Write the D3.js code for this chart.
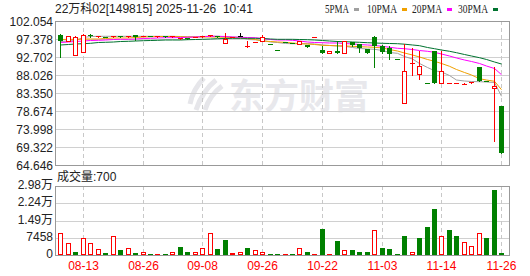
<!DOCTYPE html>
<html>
<head>
<meta charset="utf-8">
<script src="https://cdn.jsdelivr.net/npm/d3@7"></script>
<style>
  body { margin: 0; background: #fff; }
  svg { display: block; font-family: 'Liberation Sans', Arial, 'Noto Sans CJK SC', sans-serif; }
</style>
</head>
<body>
<svg id="chart" width="530" height="276"></svg>
<script>
const title = '22万科02[149815] 2025-11-26  10:41';

const dates = [
  '08-08', '08-11', '08-12', '08-13', '08-14', '08-15', '08-18', '08-19', '08-21', '08-22',
  '08-25', '08-26', '08-27', '08-28', '08-29', '09-01', '09-02', '09-03', '09-05', '09-08',
  '09-09', '09-10', '09-12', '09-15', '09-17', '09-19', '09-23', '09-26', '09-29', '09-30',
  '10-10', '10-13', '10-15', '10-17', '10-20', '10-22', '10-23', '10-24', '10-27', '10-28',
  '10-29', '10-30', '10-31', '11-03', '11-04', '11-05', '11-06', '11-07', '11-10', '11-11',
  '11-12', '11-14', '11-17', '11-18', '11-19', '11-20', '11-21', '11-24', '11-25', '11-26',
];

const open = [
  98.46, 96.89, 93.24, 94.10, 98.62, 98.14, 98.14, 98.05, 98.20, 98.14,
  98.62, 98.22, 98.27, 98.14, 98.20, 98.14, 97.62, 97.67, 97.93, 98.14,
  98.40, 98.20, 96.45, 97.96, 98.20, 95.33, 96.60, 96.89, 96.21, 94.57,
  96.73, 96.47, 96.19, 95.85, 97.90, 94.62, 93.76, 94.44, 93.76, 96.71,
  96.19, 94.96, 98.09, 95.54, 95.15, 92.23, 80.73, 90.97, 88.45, 85.97,
  94.28, 86.02, 85.99, 85.97, 85.72, 85.94, 90.19, 86.58, 84.64, 80.03,
];
const high = [
  98.80, 98.30, 98.20, 98.80, 98.88, 98.27, 98.14, 98.27, 98.20, 98.27,
  98.62, 98.27, 98.27, 98.20, 98.20, 98.20, 97.67, 97.67, 98.01, 98.20,
  98.46, 98.20, 99.06, 98.01, 99.06, 96.89, 96.63, 98.62, 96.21, 94.57,
  96.73, 96.47, 96.89, 95.85, 97.93, 95.59, 94.44, 96.89, 97.05, 96.71,
  96.19, 94.96, 98.27, 95.93, 95.67, 92.23, 96.27, 95.15, 94.44, 85.97,
  94.44, 94.28, 86.02, 86.00, 86.15, 86.36, 90.27, 86.58, 90.17, 80.03,
];
const low = [
  92.72, 96.89, 93.24, 94.10, 98.01, 98.09, 98.12, 98.01, 98.14, 98.14,
  97.31, 98.22, 98.22, 98.14, 98.14, 98.14, 97.62, 97.62, 97.93, 98.14,
  98.40, 98.14, 96.45, 97.96, 98.20, 95.33, 96.60, 96.89, 96.19, 94.55,
  96.71, 96.45, 96.19, 95.50, 97.90, 93.76, 93.76, 93.76, 93.76, 95.67,
  94.10, 93.92, 90.27, 93.84, 92.36, 92.20, 80.73, 88.11, 87.14, 85.94,
  85.90, 86.02, 85.99, 85.97, 85.72, 85.94, 86.62, 86.54, 70.98, 67.85,
];
const close = [
  96.89, 98.20, 98.14, 98.46, 98.27, 98.20, 98.12, 98.20, 98.14, 98.27,
  97.93, 98.27, 98.22, 98.20, 98.14, 98.20, 97.67, 97.62, 98.01, 98.20,
  98.46, 98.14, 97.49, 98.01, 98.20, 95.59, 96.63, 97.93, 96.19, 94.55,
  96.71, 96.45, 96.89, 95.50, 97.93, 93.76, 94.44, 93.92, 97.05, 95.85,
  95.15, 93.92, 95.54, 94.23, 93.58, 92.20, 89.07, 91.24, 90.38, 85.94,
  85.90, 89.07, 86.02, 86.00, 85.80, 86.36, 86.62, 86.54, 85.16, 67.85,
];

// volume and whether the bar is drawn as a rising (red) bar
const volume = [
  9600, 5400, 1500, 7400, 5000, 2700, 650, 8400, 1950, 3100,
  650, 1500, 600, 600, 600, 1100, 3400, 1100, 1100, 3200,
  9700, 2800, 6700, 650, 1100, 3200, 1950, 1500, 600, 600,
  600, 600, 3100, 1100, 600, 11450, 600, 6250, 1950, 1950,
  1100, 1100, 10600, 3200, 2400, 600, 8000, 1500, 7550, 11900,
  19700, 8400, 10600, 8000, 5800, 4100, 9300, 7150, 27900, 700,
];
const volumeUp = [
  1, 1, 0, 1, 1, 1, 0, 1, 0, 1,
  0, 1, 0, 1, 0, 1, 0, 0, 1, 1,
  1, 0, 0, 1, 1, 0, 1, 1, 0, 0,
  1, 0, 1, 0, 1, 0, 1, 0, 1, 0,
  0, 0, 1, 0, 0, 0, 0, 1, 0, 0,
  0, 1, 0, 0, 1, 1, 1, 0, 0, 0,
];

const ma5 = [
  96.84, 96.97, 97.10, 97.88, 98.14, 98.20, 98.20, 98.20, 98.20, 98.20,
  98.20, 98.20, 98.20, 98.20, 98.20, 98.20, 98.14, 98.09, 98.09, 98.14,
  98.20, 98.20, 98.07, 98.01, 97.94, 97.36, 97.28, 97.10, 96.71, 96.58,
  96.32, 96.27, 96.27, 96.27, 96.19, 95.93, 95.80, 95.67, 95.59, 95.28,
  95.02, 94.89, 94.81, 94.49, 93.97, 93.76, 92.93, 92.28, 91.11, 90.06,
  89.23, 88.89, 87.98, 86.80, 86.54, 86.41, 86.36, 86.28, 86.15, 82.56,
];
const ma10 = [
  97.36, 97.41, 97.41, 97.49, 97.49, 97.49, 97.62, 97.75, 97.75, 97.75,
  97.88, 98.01, 98.07, 98.14, 98.14, 98.14, 98.09, 98.01, 98.01, 98.01,
  98.01, 98.01, 97.94, 97.88, 97.75, 97.62, 97.36, 96.97, 96.84, 96.71,
  96.63, 96.45, 96.27, 96.19, 96.06, 95.85, 95.80, 95.72, 95.67, 95.59,
  95.48, 95.41, 95.33, 95.15, 94.75, 94.36, 93.84, 93.32, 92.80, 92.15,
  91.68, 91.11, 90.38, 89.54, 88.76, 88.11, 87.14, 86.80, 86.47, 84.28,
];
const ma20 = [
  96.58, 96.71, 96.84, 96.97, 97.10, 97.15, 97.23, 97.36, 97.41, 97.41,
  97.49, 97.62, 97.67, 97.75, 97.83, 97.83, 97.88, 97.94, 98.01, 98.09,
  98.20, 98.20, 98.14, 98.01, 97.94, 97.88, 97.83, 97.62, 97.36, 97.23,
  97.23, 97.15, 96.97, 96.71, 96.58, 96.53, 96.45, 96.45, 96.32, 96.19,
  96.06, 95.93, 95.80, 95.59, 95.33, 95.07, 94.96, 94.75, 94.49, 94.29,
  94.02, 93.58, 93.06, 92.54, 92.02, 91.63, 91.11, 90.45, 89.80, 88.19,
];
const ma30 = [
  95.93, 96.06, 96.19, 96.27, 96.37, 96.58, 96.63, 96.71, 96.84, 96.89,
  96.97, 97.05, 97.10, 97.15, 97.23, 97.23, 97.23, 97.31, 97.36, 97.41,
  97.49, 97.57, 97.62, 97.67, 97.67, 97.67, 97.67, 97.62, 97.49, 97.41,
  97.41, 97.41, 97.36, 97.31, 97.23, 97.10, 96.97, 96.84, 96.79, 96.71,
  96.63, 96.53, 96.45, 96.37, 96.32, 96.27, 96.14, 95.93, 95.75, 95.28,
  94.96, 94.62, 94.29, 93.92, 93.45, 93.06, 92.62, 92.15, 91.50, 90.97,
];

const priceTicks = [102.054, 97.378, 92.702, 88.026, 83.350, 78.674, 73.998, 69.322, 64.646];
const volumeTicks = [0, 7458, 14916, 22374, 29832];
const volumeTickLabels = ['0', '7458', '1.49万', '2.24万', '2.98万'];
const labelDates = ['08-13', '08-26', '09-08', '09-26', '10-22', '11-03', '11-14', '11-26'];
const maNames = ['5PMA', '10PMA', '20PMA', '30PMA'];
const maColors = ['#a0a0a0', '#f0a000', '#ff00ff', '#00732f'];

const svg = d3.select('#chart');
const left = 55;
const right = 509;
const priceTop = 21;
const priceBottom = 165;
const volTop = 186;
const volBottom = 255;
const red = '#ff0000';
const green = '#008000';

const x = d3.scaleBand().domain(dates).range([56.6, 505]);
const cx = (d) => Math.round(x(d) + x.bandwidth() / 2);
const yPrice = d3.scaleLinear().domain([64.646, 102.054]).range([priceBottom, priceTop + 0.5]);
const yVol = d3.scaleLinear().domain([0, 29832]).range([volBottom, volTop]);
const px = (v) => Math.round(v) + 0.5;

const candles = dates.map((d, i) => ({
  date: d, o: open[i], h: high[i], l: low[i], c: close[i], v: volume[i], up: volumeUp[i],
}));

// watermark
const wm = svg.append('g').attr('fill', 'none').attr('stroke', '#e6e6ea').attr('stroke-width', 5);
wm.append('path').attr('d', 'M196,110 C200,98 206,88 216,80');
wm.append('path').attr('d', 'M205,110 C208,100 214,92 222,86');
wm.append('path').attr('d', 'M190,104 C192,94 196,86 204,78');
svg.append('text')
  .attr('x', 229).attr('y', 109)
  .attr('font-family', "'Noto Sans CJK SC', sans-serif")
  .attr('font-weight', 'bold')
  .attr('font-size', 35)
  .attr('fill', '#e8e8ec')
  .text('东方财富');

const g = svg.append('g').attr('shape-rendering', 'crispEdges');

// horizontal grid
g.selectAll('.pgrid').data(priceTicks.slice(1, -1)).join('line')
  .attr('x1', left).attr('x2', right)
  .attr('y1', (d) => px(yPrice(d))).attr('y2', (d) => px(yPrice(d)))
  .attr('stroke', '#d0d0d0');
g.selectAll('.vgrid').data(volumeTicks.slice(1, -1)).join('line')
  .attr('x1', left).attr('x2', right)
  .attr('y1', (d) => px(yVol(d))).attr('y2', (d) => px(yVol(d)))
  .attr('stroke', '#d0d0d0');

// vertical dashed grid
[[priceTop, priceBottom], [volTop, volBottom]].forEach(([t, b]) => {
  g.append('g').selectAll('line').data(labelDates).join('line')
    .attr('x1', (d) => cx(d) + 0.5).attr('x2', (d) => cx(d) + 0.5)
    .attr('y1', t).attr('y2', b)
    .attr('stroke', '#c8c8c8')
    .attr('stroke-dasharray', '4,3');
});

// frames
g.append('rect').attr('x', left + 0.5).attr('y', priceTop + 0.5)
  .attr('width', right - left).attr('height', priceBottom - priceTop)
  .attr('fill', 'none').attr('stroke', '#999');
g.append('rect').attr('x', left + 0.5).attr('y', volTop + 0.5)
  .attr('width', right - left).attr('height', volBottom - volTop)
  .attr('fill', 'none').attr('stroke', '#999');

// moving averages (under the candles)
const line = d3.line().x((d) => cx(d.date) + 0.5).y((d) => yPrice(d.v));
const mg = svg.append('g');
[ma5, ma10, ma20, ma30].forEach((ma, k) => {
  mg.append('path')
    .datum(dates.map((d, i) => ({date: d, v: ma[i]})))
    .attr('d', line)
    .attr('fill', 'none')
    .attr('stroke', maColors[k])
    .attr('stroke-width', 1);
});

// candles
const candleColor = (d) => (d.c > d.o ? red : d.c < d.o ? green : '#000');
const cg = svg.append('g').attr('shape-rendering', 'crispEdges');
cg.selectAll('.wick').data(candles).join('line')
  .attr('x1', (d) => cx(d.date) + 0.5).attr('x2', (d) => cx(d.date) + 0.5)
  .attr('y1', (d) => Math.round(yPrice(d.h))).attr('y2', (d) => Math.round(yPrice(d.l)) + 1)
  .attr('stroke', candleColor);
cg.selectAll('.body').data(candles).join('rect')
  .each(function (d) {
    const top = Math.round(yPrice(Math.max(d.o, d.c)));
    const bot = Math.round(yPrice(Math.min(d.o, d.c)));
    const el = d3.select(this);
    const col = candleColor(d);
    if (d.c > d.o && bot - top >= 2) {
      el.attr('x', cx(d.date) - 2 + 0.5).attr('y', top + 0.5)
        .attr('width', 4).attr('height', bot - top)
        .attr('fill', '#fff').attr('stroke', col);
    } else {
      el.attr('x', cx(d.date) - 2).attr('y', top)
        .attr('width', 5).attr('height', Math.max(bot - top, 1))
        .attr('fill', col);
    }
  });

// volume bars
cg.append('g').selectAll('rect').data(candles).join('rect')
  .each(function (d) {
    const top = Math.round(yVol(d.v));
    const el = d3.select(this);
    if (d.up && volBottom - top >= 3) {
      el.attr('x', cx(d.date) - 2 + 0.5).attr('y', top + 0.5)
        .attr('width', 4).attr('height', volBottom - top - 1)
        .attr('fill', '#fff').attr('stroke', red);
    } else {
      el.attr('x', cx(d.date) - 2).attr('y', top)
        .attr('width', 5).attr('height', Math.max(volBottom - top, 1))
        .attr('fill', d.up ? red : green);
    }
  });

// axis labels
svg.append('g').selectAll('text').data(priceTicks).join('text')
  .attr('x', 53).attr('y', (d) => yPrice(d) + 4.5)
  .attr('text-anchor', 'end').attr('font-size', 12).attr('fill', '#222')
  .text((d) => d.toFixed(3));
svg.append('g').selectAll('text').data(volumeTicks).join('text')
  .attr('x', 53).attr('y', (d) => yVol(d) + 3)
  .attr('text-anchor', 'end').attr('font-size', 12).attr('fill', '#222')
  .text((d, i) => volumeTickLabels[i]);
svg.append('g').selectAll('text').data(labelDates).join('text')
  .attr('x', (d) => cx(d) + 0.5).attr('y', 270)
  .attr('text-anchor', 'middle').attr('font-size', 12).attr('fill', red)
  .text((d) => d);

// title and volume caption
svg.append('text').attr('x', 55).attr('y', 13)
  .attr('font-size', 12).attr('fill', '#222').style('white-space', 'pre')
  .text(title);
svg.append('text').attr('x', 57).attr('y', 181)
  .attr('font-size', 12).attr('fill', '#222')
  .text('成交量:' + volume[volume.length - 1]);

// legend
const legendX = [325, 367, 412, 458];
const lg = svg.append('g').selectAll('g').data(maNames).join('g');
lg.append('text')
  .attr('x', (d, i) => legendX[i]).attr('y', 12.5)
  .attr('font-family', "'Liberation Serif', serif")
  .attr('font-size', 12).attr('fill', '#222')
  .attr('textLength', (d) => d.length * 6).attr('lengthAdjust', 'spacingAndGlyphs')
  .text((d) => d);
lg.append('rect')
  .attr('x', (d, i) => legendX[i] + d.length * 6 + 5).attr('y', 8)
  .attr('width', 5).attr('height', 3)
  .attr('fill', (d, i) => maColors[i]);
</script>
</body>
</html>
